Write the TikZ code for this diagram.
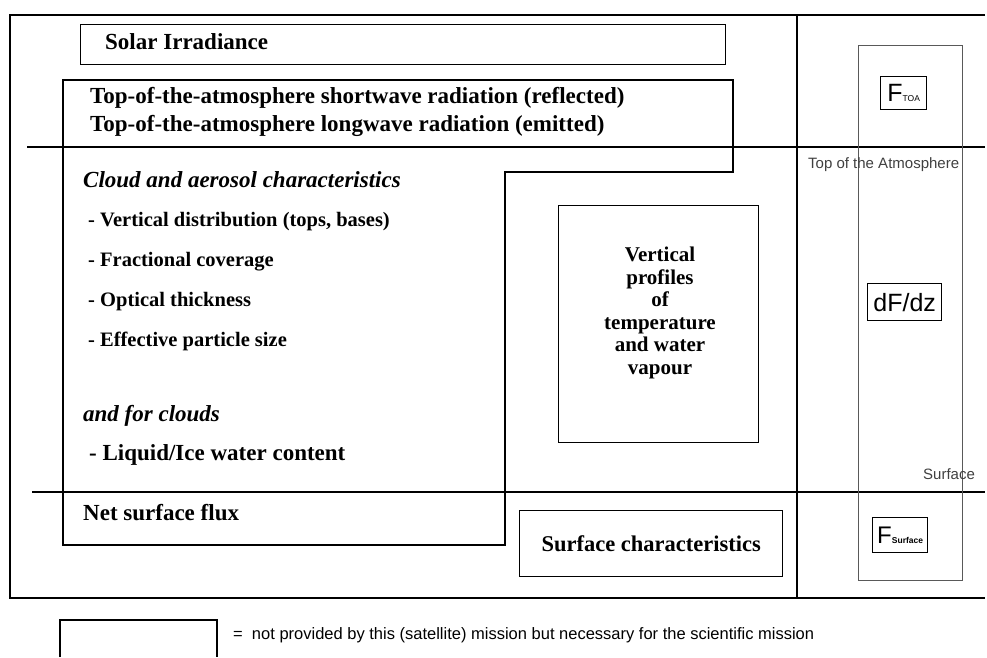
\documentclass[tikz,border=0pt]{standalone}
\usepackage{fontspec}
\setmainfont{Liberation Serif}
\setsansfont{Liberation Sans}
\begin{document}
\begin{tikzpicture}[x=1pt,y=-1pt,
  heavy/.style={line width=2.6pt},
  boxline/.style={line width=1.3pt},
  box/.style={draw, line width=1.3pt, inner sep=0pt, anchor=north west},
  thinbox/.style={draw=black!65, line width=0.9pt, inner sep=0pt, anchor=north west},
  txt/.style={inner sep=0pt, anchor=base west},
  big/.style={txt, font=\fontsize{23}{27}\selectfont\bfseries},
  bigit/.style={txt, font=\fontsize{23}{27}\selectfont\bfseries\itshape},
  mid/.style={txt, font=\fontsize{20.5}{24}\selectfont\bfseries},
  sanslabel/.style={txt, text=black!75, font=\sffamily\fontsize{15}{18}\selectfont},
  fbox/.style={draw, line width=1.3pt, inner sep=0pt, anchor=north west, font=\sffamily}
]
\useasboundingbox (0,0) rectangle (987,657);

% main frame and dividers
\draw[heavy] (985,15) -- (10,15) -- (10,598) -- (985,598);
\draw[heavy] (797,15) -- (797,598);
\draw[heavy] (27,147) -- (985,147);
\draw[heavy] (32,492) -- (985,492);

% Solar irradiance
\node[box, minimum width=645pt, minimum height=40pt] (solar) at (80,24) {};
\node[big] (solartxt) at (105,49) {Solar Irradiance};

% TOA / cloud / net surface flux polygon
\draw[boxline] (63,80) -- (733,80) -- (733,172) -- (505,172) -- (505,545) -- (63,545) -- cycle;
\node[big] (toa1) at (90,103) {Top-of-the-atmosphere shortwave radiation (reflected)};
\node[big] (toa2) at (90,131) {Top-of-the-atmosphere longwave radiation (emitted)};

\node[bigit] (cloud) at (83,187) {Cloud and aerosol characteristics};
\node[mid] (vd) at (88,226) {- Vertical distribution (tops, bases)};
\node[mid] (fc) at (88,266) {- Fractional coverage};
\node[mid] (ot) at (88,306) {- Optical thickness};
\node[mid] (ep) at (88,346) {- Effective particle size};
\node[bigit] (forclouds) at (83,421) {and for clouds};
\node[big] (liquid) at (89,460) {- Liquid/Ice water content};
\node[big] (net) at (83,520) {Net surface flux};

% vertical profiles
\node[box, minimum width=200pt, minimum height=237pt] (vp) at (558,205) {};
\node[inner sep=0pt, align=center, font=\fontsize{21}{22.5}\selectfont\bfseries] (vptxt) at (660,313)
  {Vertical\\profiles\\of\\temperature\\and water\\vapour};

% surface characteristics
\node[box, minimum width=263pt, minimum height=66pt, font=\fontsize{22.5}{27}\selectfont\bfseries] (sc) at (519,510) {Surface characteristics};

% right column
\node[thinbox, minimum width=104pt, minimum height=535pt] (col) at (858,45) {};
\node[fbox, minimum width=46pt, minimum height=33pt] (ftoa) at (880,76)
  {{\fontsize{25}{25}\selectfont F}{\fontsize{8.5}{9}\selectfont TOA}};
\node[sanslabel] (toplab) at (808,168) {Top of the Atmosphere};
\node[fbox, minimum width=74pt, minimum height=37pt, font=\sffamily\fontsize{25}{25}\selectfont] (dfdz) at (867,283) {dF/dz};
\node[sanslabel] (surflab) at (923,479) {Surface};
\node[fbox, minimum width=55pt, minimum height=35pt] (fsurf) at (872,517)
  {{\fontsize{24}{24}\selectfont F}{\fontsize{8.5}{9}\selectfont\bfseries Surface}};

% legend
\draw[boxline] (60,657) -- (60,620) -- (217,620) -- (217,657);
\node[txt, font=\sffamily\fontsize{16.5}{20}\selectfont] (legend) at (233,639)
  {=\ \ not provided by this (satellite) mission but necessary for the scientific mission};
\end{tikzpicture}
\end{document}
